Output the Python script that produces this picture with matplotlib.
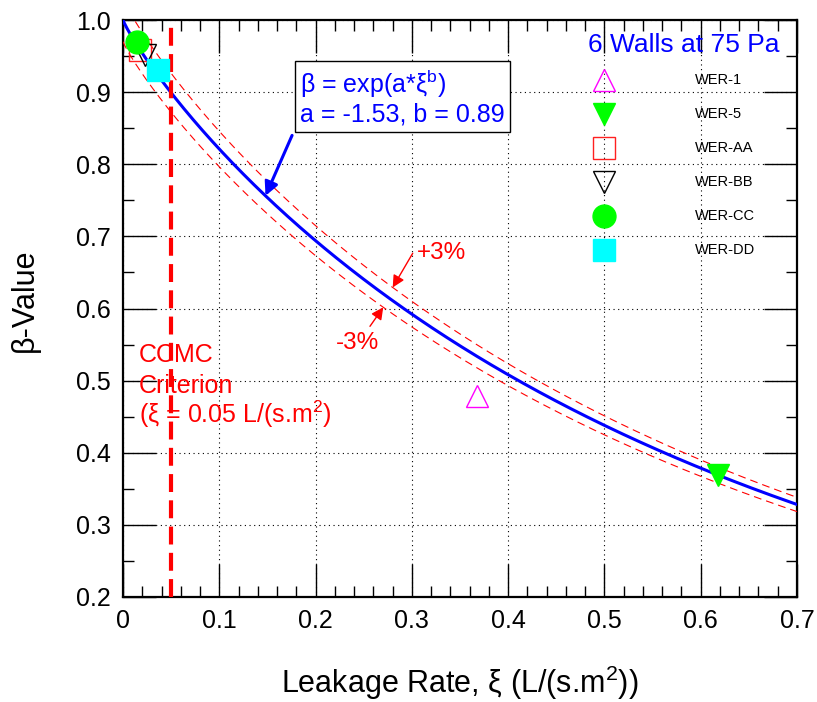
import numpy as np
import matplotlib
matplotlib.use("Agg")
import matplotlib.pyplot as plt
from matplotlib.ticker import MultipleLocator, FuncFormatter

plt.rcParams['font.family'] = ['Liberation Sans', 'DejaVu Sans']
plt.rcParams['mathtext.fontset'] = 'custom'
plt.rcParams['mathtext.rm'] = 'Liberation Sans'
plt.rcParams['mathtext.it'] = 'Liberation Sans'

# Data
fit_a = -1.53
fit_b = 0.89
band = 0.03
ccmc_xi = 0.05
labels = ["WER-1", "WER-5", "WER-AA", "WER-BB", "WER-CC", "WER-DD"]
xi_vals = [0.368, 0.6175, 0.0177, 0.0225, 0.0142, 0.036]
beta_vals = [0.478, 0.369, 0.958, 0.952, 0.969, 0.9307]
markers = ["^", "v", "s", "v", "o", "s"]
faces = ["none", "#00ff00", "none", "none", "#00ff00", "#00ffff"]
edges = ["#ff00ff", "#00ff00", "#ff2020", "black", "#00ff00", "#00ffff"]

fig = plt.figure(figsize=(8.17, 7.02), dpi=100)
ax = fig.add_axes([123/817, 105/702, 674/817, 577/702])

xs = np.linspace(0.0, 0.7, 500)
beta = np.exp(fit_a * xs ** fit_b)
ax.plot(xs, beta, color='blue', lw=2.2, zorder=3)
ax.plot(xs, beta * (1 + band), color='red', lw=0.8, ls=(0, (7, 4.5)), zorder=3)
ax.plot(xs, beta * (1 - band), color='red', lw=0.8, ls=(0, (7, 4.5)), zorder=3)
ax.axvline(ccmc_xi, color='red', lw=3, ls=(0, (4.3, 2)), zorder=3)

ms = 16.5
for lab, x, y, m, fc, ec in zip(labels, xi_vals, beta_vals, markers, faces, edges):
    ax.plot([x], [y], ls='none', marker=m, ms=ms, mfc=fc, mec=ec, mew=1.0, label=lab, zorder=4)

ax.set_xlim(0, 0.7)
ax.set_ylim(0.2, 1.0)
ax.xaxis.set_major_locator(MultipleLocator(0.1))
ax.xaxis.set_minor_locator(MultipleLocator(0.02))
ax.yaxis.set_major_locator(MultipleLocator(0.1))
ax.yaxis.set_minor_locator(MultipleLocator(0.05))
ax.xaxis.set_major_formatter(FuncFormatter(lambda v, p: "0" if abs(v) < 1e-9 else f"{v:.1f}"))
ax.yaxis.set_major_formatter(FuncFormatter(lambda v, p: f"{v:.1f}"))
ax.tick_params(which='both', direction='in', top=True, right=True, labelsize=18, pad=9)
ax.tick_params(which='major', length=24, width=1.0)
ax.tick_params(which='minor', length=8, width=1.0)
for sp in ax.spines.values():
    sp.set_linewidth(1.6)
ax.grid(True, which='major', color='black', ls=(0, (1, 3.2)), lw=0.8)

ax.set_xlabel("Leakage Rate, ξ (L/(s.m$^2$))", fontsize=22)
ax.xaxis.label.set_va('center')
ax.xaxis.set_label_coords(0.5, -0.149)
ax.set_ylabel("β-Value", fontsize=22)
ax.yaxis.label.set_va('center')
ax.yaxis.set_label_coords(-0.145, 0.515)

# Legend (drawn manually in axes coordinates, without a frame)
leg_mx = 0.7136
leg_tx = 0.8487
leg_y0 = 0.896
leg_dy = 0.0589
ax.text(0.8315, 0.957, "6 Walls at 75 Pa", color='blue', fontsize=19,
        transform=ax.transAxes, ha='center', va='center', zorder=6)
for i, (lab, m, fc, ec) in enumerate(zip(labels, markers, faces, edges)):
    yy = leg_y0 - i * leg_dy
    ax.plot([leg_mx], [yy], transform=ax.transAxes, ls='none', marker=m, ms=ms,
            mfc=fc, mec=ec, mew=1.0, clip_on=False, zorder=6)
    ax.text(leg_tx, yy, lab, fontsize=10.5, transform=ax.transAxes,
            ha='left', va='center', zorder=6)

ax.text(0.4147, 0.8657, "β = exp(a*ξ$^b$)\na = -1.53, b = 0.89", color='blue', fontsize=18,
        transform=ax.transAxes, va='center', ha='center', multialignment='left',
        linespacing=1.15,
        bbox=dict(boxstyle='square,pad=0.22', fc='white', ec='black', lw=1.0), zorder=5)
ax.annotate("", xy=(0.148, np.exp(fit_a * 0.148 ** fit_b)), xytext=(0.1756, 0.84),
            arrowprops=dict(arrowstyle='-|>', color='blue', lw=2.2, mutation_scale=20,
                            shrinkA=0, shrinkB=0), zorder=5)

x_up = 0.2801
ax.annotate("", xy=(x_up, np.exp(fit_a * x_up ** fit_b) * (1 + band)), xytext=(0.3009, 0.6766),
            arrowprops=dict(arrowstyle='-|>', color='red', lw=1, mutation_scale=18,
                            shrinkA=0, shrinkB=0), zorder=5)
ax.text(0.3303, 0.6763, "+3%", color='red', fontsize=17.5, ha='center', va='center', zorder=5)

x_lo = 0.2703
ax.annotate("", xy=(x_lo, np.exp(fit_a * x_lo ** fit_b) * (1 - band)), xytext=(0.2565, 0.5753),
            arrowprops=dict(arrowstyle='-|>', color='red', lw=1, mutation_scale=18,
                            shrinkA=0, shrinkB=0), zorder=5)
ax.text(0.244, 0.5525, "-3%", color='red', fontsize=17.5, ha='center', va='center', zorder=5)

ax.text(0.0166, 0.5255, "CCMC", color='red', fontsize=18, va='baseline', ha='left', zorder=5)
ax.text(0.0166, 0.4826, "Criterion", color='red', fontsize=18, va='baseline', ha='left', zorder=5)
ax.text(0.0166, 0.441, "(ξ = 0.05 L/(s.m$^2$)", color='red', fontsize=18, va='baseline', ha='left', zorder=5)

fig.savefig("out.png", dpi=100)
